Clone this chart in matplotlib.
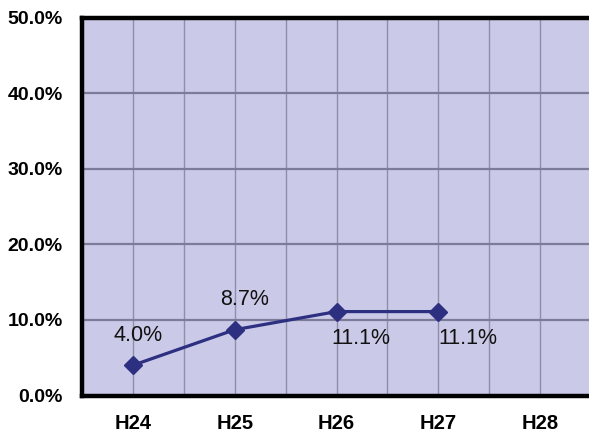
import numpy as np
import matplotlib
matplotlib.use("Agg")
import matplotlib.pyplot as plt
from matplotlib.ticker import FixedLocator

# yearly rate (%) by fiscal year
years = ["H24", "H25", "H26", "H27", "H28"]
rates = [4.0, 8.7, 11.1, 11.1]
rate_labels = ["4.0%", "8.7%", "11.1%", "11.1%"]
y_ticks = [0, 10, 20, 30, 40, 50]

# label offsets in pixels (dx, dy)
label_offsets = [(5, 30), (10, 30), (24, -27), (30, -27)]

fonts = ["Liberation Sans Narrow", "Liberation Sans", "DejaVu Sans"]
plt.rcParams["font.family"] = fonts

fig = plt.figure(figsize=(5.89, 4.32), dpi=100)
ax = fig.add_axes([82 / 589, 36.5 / 432, 509 / 589, 378 / 432])
ax.set_facecolor("#cac9e7")

x = np.arange(len(rates))
ax.plot(x, rates, color="#2d2f80", lw=2.3, marker="D", ms=9, zorder=3)

for xi, yi, txt, (dx, dy) in zip(x, rates, rate_labels, label_offsets):
    ax.annotate(txt, (xi, yi), xytext=(dx * 0.72, dy * 0.72), textcoords="offset points",
                ha="center", va="center", fontsize=15.5, color="#111111")

ax.set_xlim(-0.5, 4.5)
ax.set_ylim(0, 50)
ax.set_xticks(range(len(years)))
ax.set_xticklabels(years, fontsize=14.5, fontweight="bold")
ax.xaxis.set_minor_locator(FixedLocator(np.arange(-0.5, 5, 1.0)))
ax.set_yticks(y_ticks)
ax.set_yticklabels([f"{v:.1f}%" for v in y_ticks], fontsize=14, fontweight="bold")

ax.tick_params(axis="both", which="both", length=0)
ax.tick_params(axis="x", pad=13)
ax.tick_params(axis="y", pad=14)

ax.grid(axis="x", which="both", color="#8e8eaa", lw=1.0)
ax.grid(axis="y", which="major", color="#7c7c9a", lw=1.6)
ax.set_axisbelow(True)

for side in ["left", "top", "bottom"]:
    ax.spines[side].set_linewidth(3.2)
    ax.spines[side].set_color("black")
    ax.spines[side].set_zorder(5)
ax.spines["right"].set_visible(False)

fig.savefig("out.png", dpi=100)
